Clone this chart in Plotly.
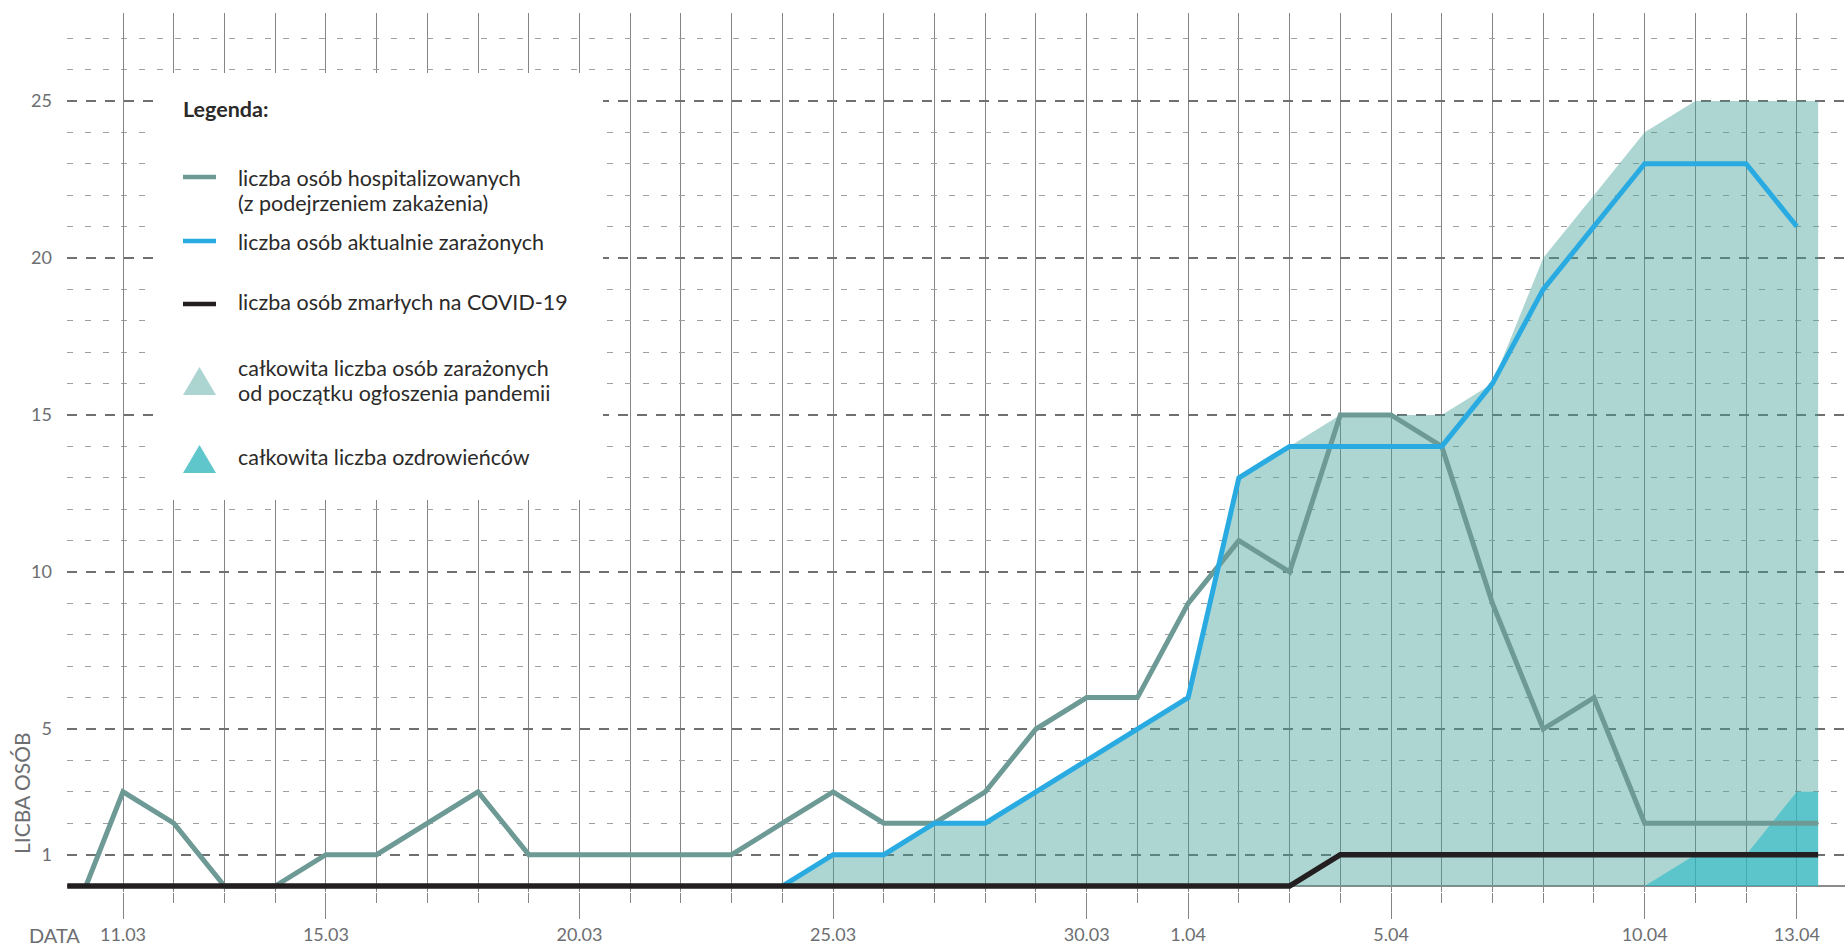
import plotly.graph_objects as go

# ---------------- data ----------------
dates = ["11.03", "12.03", "13.03", "14.03", "15.03", "16.03", "17.03", "18.03", "19.03",
         "20.03", "21.03", "22.03", "23.03", "24.03", "25.03", "26.03", "27.03", "28.03",
         "29.03", "30.03", "31.03", "1.04", "2.04", "3.04", "4.04", "5.04", "6.04", "7.04",
         "8.04", "9.04", "10.04", "11.04", "12.04", "13.04"]
tick_dates = ["11.03", "15.03", "20.03", "25.03", "30.03", "1.04", "5.04", "10.04", "13.04"]

hospitalized = [3, 2, 0, 0, 1, 1, 2, 3, 1, 1, 1, 1, 1, 2, 3, 2, 2, 3, 5, 6, 6,
                9, 11, 10, 15, 15, 14, 9, 5, 6, 2, 2, 2, 2]
deaths = [0] * 24 + [1] * 10

infected_start = "24.03"
infected_now = [0, 1, 1, 2, 2, 3, 4, 5, 6, 13, 14, 14, 14, 14, 16, 19, 21, 23, 23, 23, 21]
infected_total = [0, 1, 1, 2, 2, 3, 4, 5, 6, 13, 14, 15, 15, 15, 16, 20, 22, 24, 25, 25, 25]

recovered_start = "10.04"
recovered = [0, 1, 1, 3]

# chart begins / ends slightly off the day grid in the original
series_first_day = 9.9       # deaths line starts at left edge
hosp_first_day = 10.27       # hospitalized line starts at 0 here
series_last_day = 44.42      # areas, deaths and hospitalized run to here

y_ticks = [1, 5, 10, 15, 20, 25]

# ---------------- helpers ----------------
def day_num(s):
    d, m = s.split(".")
    return int(d) + (31 if m == "04" else 0)

xd = [day_num(d) for d in dates]
i_inf = dates.index(infected_start)
i_rec = dates.index(recovered_start)

FONT = "Lato"
GRAY_TXT = "#6d6e71"
DARK_TXT = "#2b2a29"
C_HOSP = "#6e9a96"
C_BLUE = "#29abe2"
C_BLACK = "#231f20"

W, H = 1845, 946
ML, MR, MT, MB = 67, 0, 13, 54
PW, PH = W - ML - MR, H - MT - MB

def px(xp):
    return (xp - ML) / PW

def py(yp):
    return (H - MB - yp) / PH

fig = go.Figure()

# areas (semi transparent so the grid shows through)
fig.add_trace(go.Scatter(
    x=xd[i_inf:] + [series_last_day], y=infected_total + [infected_total[-1]],
    mode="lines", line=dict(width=0), fill="tozeroy",
    fillcolor="rgba(66,160,152,0.43)", hoverinfo="skip", showlegend=False))
fig.add_trace(go.Scatter(
    x=xd[i_rec:] + [series_last_day], y=recovered + [recovered[-1]],
    mode="lines", line=dict(width=0), fill="tozeroy",
    fillcolor="rgba(42,187,199,0.62)", hoverinfo="skip", showlegend=False))

# lines
fig.add_trace(go.Scatter(
    x=[hosp_first_day] + xd + [series_last_day], y=[0] + hospitalized + [hospitalized[-1]],
    mode="lines", line=dict(color=C_HOSP, width=5), showlegend=False))
fig.add_trace(go.Scatter(
    x=xd[i_inf:], y=infected_now,
    mode="lines", line=dict(color=C_BLUE, width=5), showlegend=False))
fig.add_trace(go.Scatter(
    x=[series_first_day] + xd + [series_last_day], y=[deaths[0]] + deaths + [deaths[-1]],
    mode="lines", line=dict(color=C_BLACK, width=5.5), showlegend=False))

major_x = [day_num(d) for d in tick_dates]
minor_x = [v for v in xd if v not in major_x]
minor_y = [v for v in range(1, 28) if v not in y_ticks]

fig.update_layout(
    width=W, height=H,
    margin=dict(l=ML, r=MR, t=MT, b=MB, pad=0),
    paper_bgcolor="white", plot_bgcolor="white",
    font=dict(family=FONT, color=GRAY_TXT),
    xaxis=dict(
        range=[9.896, 44.95], tickmode="array", tickvals=major_x, ticktext=tick_dates,
        ticks="outside", ticklen=26, tickwidth=1.4, tickcolor="#858585",
        showgrid=True, gridcolor="#858585", gridwidth=1.4,
        minor=dict(tickmode="array", tickvals=minor_x, ticks="outside", ticklen=10,
                   tickwidth=1.4, tickcolor="#858585", showgrid=True,
                   gridcolor="#858585", gridwidth=1.4),
        showline=False, zeroline=False,
        tickfont=dict(family=FONT, size=18, color=GRAY_TXT),
        fixedrange=True,
    ),
    yaxis=dict(
        range=[-0.19, 27.8], tickmode="array", tickvals=y_ticks,
        ticks="", showgrid=True, gridcolor="#707070", gridwidth=1.8, griddash="10px,9px",
        minor=dict(tickmode="array", tickvals=minor_y, ticks="", showgrid=True,
                   gridcolor="#a0a0a0", gridwidth=1.3, griddash="6px,12px"),
        zeroline=True, zerolinecolor="#8c8c8c", zerolinewidth=2,
        showline=False, ticklabelstandoff=14,
        tickfont=dict(family=FONT, size=18, color=GRAY_TXT),
        fixedrange=True,
    ),
)

# ---------------- legend box ----------------
shapes = [dict(type="rect", xref="paper", yref="paper",
               x0=px(153), x1=px(603), y0=py(500), y1=py(73),
               fillcolor="white", line=dict(width=0), layer="above")]

def hline(y, color):
    return dict(type="line", xref="paper", yref="paper", x0=px(183), x1=px(216),
                y0=py(y), y1=py(y), line=dict(color=color, width=4.5), layer="above")

def tri(top, bottom, color):
    path = f"M {px(183)},{py(bottom)} L {px(216)},{py(bottom)} L {px(199.5)},{py(top)} Z"
    return dict(type="path", xref="paper", yref="paper", path=path,
                fillcolor=color, line=dict(width=0), layer="above")

shapes += [hline(177, C_HOSP), hline(241, C_BLUE), hline(304, C_BLACK),
           tri(367, 395, "#acd5d2"), tri(445, 473, "#5fc6cc")]

ann = []
def txt(x, y, s, size=21.5, color=DARK_TXT, bold=False):
    ann.append(dict(xref="paper", yref="paper", x=px(x), y=py(y), text=(f"<b>{s}</b>" if bold else s),
                    showarrow=False, xanchor="left", yanchor="middle",
                    font=dict(family=FONT, size=size, color=color)))

txt(181, 109, "Legenda:", size=21.5, bold=True)
txt(236, 178, "liczba osób hospitalizowanych")
txt(236, 203, "(z podejrzeniem zakażenia)")
txt(236, 242, "liczba osób aktualnie zarażonych")
txt(236, 302, "liczba osób zmarłych na COVID-19")
txt(236, 368, "całkowita liczba osób zarażonych")
txt(236, 393, "od początku ogłoszenia pandemii")
txt(236, 457, "całkowita liczba ozdrowieńców")

# axis titles
txt(27, 935, "DATA", size=20, color=GRAY_TXT)
ann.append(dict(xref="paper", yref="paper", x=px(21), y=py(793), text="LICBA OSÓB",
                textangle=-90, showarrow=False, xanchor="center", yanchor="middle",
                font=dict(family=FONT, size=21, color=GRAY_TXT)))

fig.update_layout(shapes=shapes, annotations=ann)
fig.write_html(
    "out.html",
    config={"displayModeBar": False},
    post_script="document.body.style.margin='0';document.body.style.overflow='hidden';",
)
